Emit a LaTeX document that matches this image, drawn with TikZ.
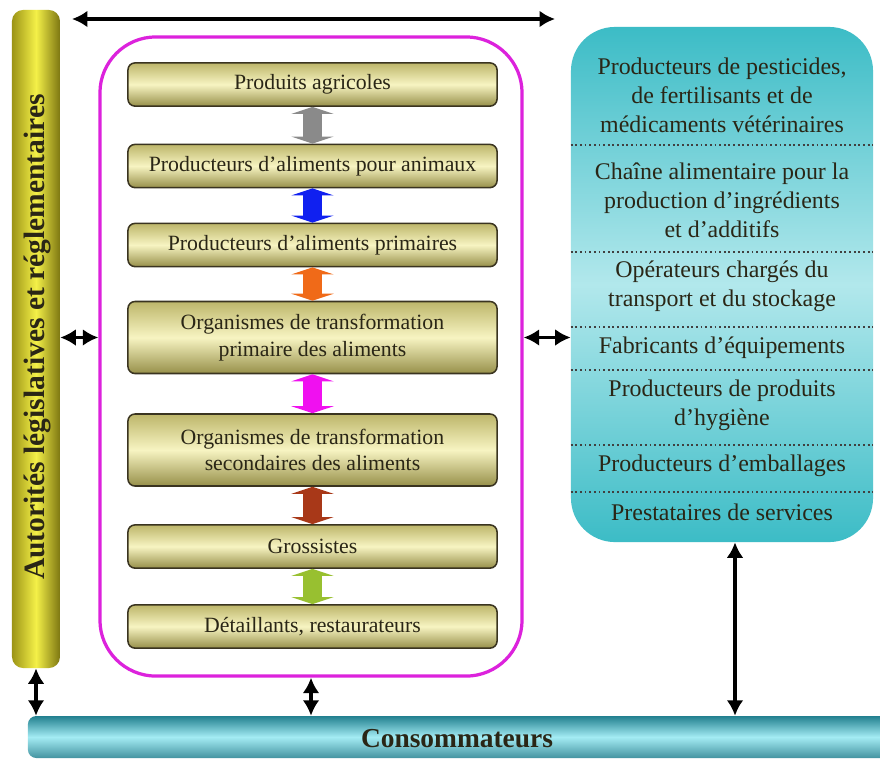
\documentclass[tikz,border=0pt]{standalone}
\usepackage{fontspec}
\setmainfont{Liberation Serif}
\usetikzlibrary{arrows.meta}

\definecolor{boxtop}{HTML}{BDB66A}
\definecolor{boxmid}{HTML}{F7F4C2}
\definecolor{boxbot}{HTML}{97904A}
\definecolor{boxedge}{HTML}{3A3420}
\definecolor{barside}{HTML}{9C9416}
\definecolor{barmid}{HTML}{F4F048}
\definecolor{framecol}{HTML}{DC22DC}
\definecolor{tealtop}{HTML}{3CBCC6}
\definecolor{teallight}{HTML}{B2E8EC}
\definecolor{consdark}{HTML}{22808F}
\definecolor{conslight}{HTML}{A4ECF4}
\definecolor{textdark}{HTML}{2A2616}
\definecolor{flowgray}{HTML}{8A8A8A}
\definecolor{flowblue}{HTML}{1020F0}
\definecolor{floworange}{HTML}{F06A18}
\definecolor{flowpink}{HTML}{F010F0}
\definecolor{flowbrown}{HTML}{A83818}
\definecolor{flowgreen}{HTML}{98C030}

\begin{document}
\begin{tikzpicture}[x=0.025cm,y=-0.025cm,
  chainbox/.style={draw=boxedge, line width=1.1pt, rounded corners=5pt,
    top color=boxtop, bottom color=boxbot, middle color=boxmid,
    minimum width=9.225cm, minimum height=1.08cm, align=center, text=textdark,
    font=\fontsize{15.5}{19}\selectfont},
  tall/.style={minimum height=1.8cm},
  flow/.style={line width=14pt, draw=#1,
    {Triangle[width=30pt,length=5pt]}-{Triangle[width=30pt,length=5pt]}},
  link/.style={line width=2.6pt, {Latex[length=11pt,width=12pt]}-{Latex[length=11pt,width=12pt]}},
  supptext/.style={align=center, text=textdark, font=\fontsize{17}{20.6}\selectfont},
  sep/.style={dotted, line width=1.3pt, draw=black!75}]

\path[use as bounding box, fill=white] (0,0) rectangle (880,758);
\clip (0,0) rectangle (880,758);

% authorities bar
\node[rectangle, rounded corners=8pt, minimum width=1.2cm, minimum height=16.45cm,
  left color=barside, right color=barside!80!black, middle color=barmid] (auth) at (36,339) {};
\node[rotate=90, text=textdark, font=\bfseries\fontsize{21}{24}\selectfont] (authlab) at (37,337) {Autorités législatives et réglementaires};

% food chain
\node[draw=framecol, line width=2.3pt, rounded corners=1.4cm,
  minimum width=10.55cm, minimum height=15.975cm] (frame) at (311,356.5) {};

\node[chainbox] (b1) at (312.5,84.5) {Produits agricoles};
\node[chainbox] (b2) at (312.5,166) {Producteurs d’aliments pour animaux};
\node[chainbox] (b3) at (312.5,245) {Producteurs d’aliments primaires};
\node[chainbox,tall] (b4) at (312.5,337.5) {Organismes de transformation\\primaire des aliments};
\node[chainbox,tall] (b5) at (312.5,450) {Organismes de transformation\\secondaires des aliments};
\node[chainbox] (b6) at (312.5,546.5) {Grossistes};
\node[chainbox] (b7) at (312.5,626.5) {Détaillants, restaurateurs};

\draw[flow=flowgray] (b1.south) -- (b2.north);
\draw[flow=flowblue] (b2.south) -- (b3.north);
\draw[flow=floworange] (b3.south) -- (b4.north);
\draw[flow=flowpink] (b4.south) -- (b5.north);
\draw[flow=flowbrown] (b5.south) -- (b6.north);
\draw[flow=flowgreen] (b6.south) -- (b7.north);

% suppliers
\node[rectangle, rounded corners=1.1cm, top color=tealtop, bottom color=tealtop,
  middle color=teallight, minimum width=7.55cm, minimum height=12.875cm] (supp) at (722,284.5) {};
\foreach \y in {145,252,327,370,445,492}
  \draw[sep] (supp.west |- 0,\y) -- (supp.east |- 0,\y);

\node[supptext] (s1) at (722,95.5) {Producteurs de pesticides,\\de fertilisants et de\\médicaments vétérinaires};
\node[supptext] (s2) at (722,200) {Chaîne alimentaire pour la\\production d’ingrédients\\et d’additifs};
\node[supptext] (s3) at (722,286) {Opérateurs chargés du\\transport et du stockage};
\node[supptext] (s4) at (722,348) {Fabricants d’équipements};
\node[supptext] (s5) at (722,405) {Producteurs de produits\\d’hygiène};
\node[supptext] (s6) at (722,466) {Producteurs d’emballages};
\node[supptext] (s7) at (722,512) {Prestataires de services};

% consumers
\node[rectangle, rounded corners=6pt, top color=consdark, bottom color=consdark!85!white,
  middle color=conslight, minimum width=21.8cm, minimum height=1.05cm] (cons) at (464,737) {};
\node[text=textdark, font=\bfseries\fontsize{19.5}{22}\selectfont] (conslab) at (457,739) {Consommateurs};

% links
\coordinate (topl) at (72,19);
\coordinate (topr) at (555,19);
\draw[link] (topl) -- (topr);
\draw[link] (auth.east |- b4) -- (frame.west |- b4);
\draw[link] (frame.east |- b4) -- (supp.west |- b4);
\draw[link] (auth.south) -- (auth.south |- cons.north);
\draw[link] (frame.south) -- (frame.south |- cons.north);
\draw[link] (supp.south -| 735,0) -- (cons.north -| 735,0);

\end{tikzpicture}
\end{document}
